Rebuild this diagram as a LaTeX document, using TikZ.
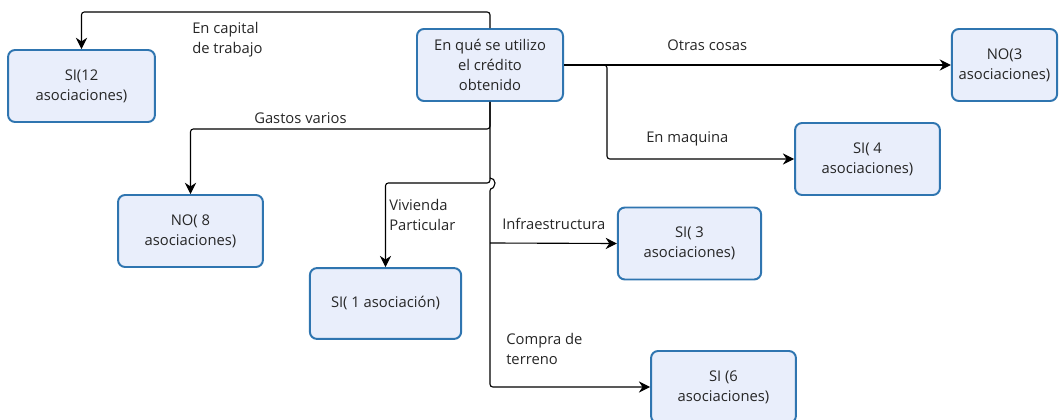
\documentclass[tikz,border=0pt]{standalone}
\usepackage{fontspec}
\setmainfont{Open Sans}
\usetikzlibrary{arrows.meta,positioning}
\definecolor{cajaborde}{HTML}{2F75B0}
\definecolor{cajafondo}{HTML}{E9EEFB}

\begin{document}
\begin{tikzpicture}[x=0.025cm,y=-0.025cm,
  caja/.style={draw=cajaborde,fill=cajafondo,line width=1.4pt,rounded corners=5pt,
    align=center,inner sep=2pt,minimum width=3.62cm,minimum height=1.8cm,
    font=\fontsize{10.5}{14}\selectfont,text=black!85},
  etiq/.style={anchor=west,align=left,inner sep=0pt,
    font=\fontsize{10.5}{14}\selectfont,text=black!85},
  flecha/.style={line width=0.8pt,rounded corners=2pt,-{Stealth[length=8pt,width=8pt]}}]
  \useasboundingbox (0,0) rectangle (1059,420);

  % cajas
  \node[caja,minimum width=3.65cm] (obj) at (490,65) {En qué se utilizo\\el crédito\\obtenido};
  \node[caja,minimum width=3.67cm] (capital) at (81.5,86) {SI(12\\asociaciones)};
  \node[caja,minimum width=2.63cm] (otras) at (1004.5,65) {NO(3\\asociaciones)};
  \node[caja] (maquina) at (867.5,159) {SI( 4\\asociaciones)};
  \node[caja] (gastos) at (190.5,231) {NO( 8\\asociaciones)};
  \node[caja,minimum width=3.58cm] (infra) at (689.5,243.5) {SI( 3\\asociaciones)};
  \node[caja,minimum width=3.78cm,minimum height=1.77cm] (vivienda) at (385.5,303.5) {SI( 1 asociación)};
  \node[caja] (terreno) at (723.5,387) {SI (6\\asociaciones)};

  \coordinate (jv) at (490,183);
  \coordinate (ji) at (490,243);

  % conectores
  \draw[flecha] (obj.north) -- ++(0,-16) -| (capital.north);
  \draw[flecha] (obj.south) -- ++(0,27) -| (gastos.north);
  \draw[flecha] (obj.south) -- (jv) -| (vivienda.north);
  \draw[flecha] (jv) ++(0,-5) arc[start angle=-90,end angle=90,radius=5] |- (terreno.west);
  \draw[flecha] (ji) -- (infra.west);
  \draw[flecha] (obj.east) -- (otras.west);
  \draw[flecha] (obj.east) -- (607,65) |- (maquina.west);

  % etiquetas
  \node[etiq] (lcapital) at (192,40) {En capital\\de trabajo};
  \node[etiq] (lgastos) at (254,118) {Gastos varios};
  \node[etiq] (lvivienda) at (389,215) {Vivienda\\Particular};
  \node[etiq] (linfra) at (502,224) {Infraestructura};
  \node[etiq] (lterreno) at (506,349) {Compra de\\terreno};
  \node[etiq] (lotras) at (667,45) {Otras cosas};
  \node[etiq] (lmaquina) at (646,139) {En maquina};
\end{tikzpicture}
\end{document}
